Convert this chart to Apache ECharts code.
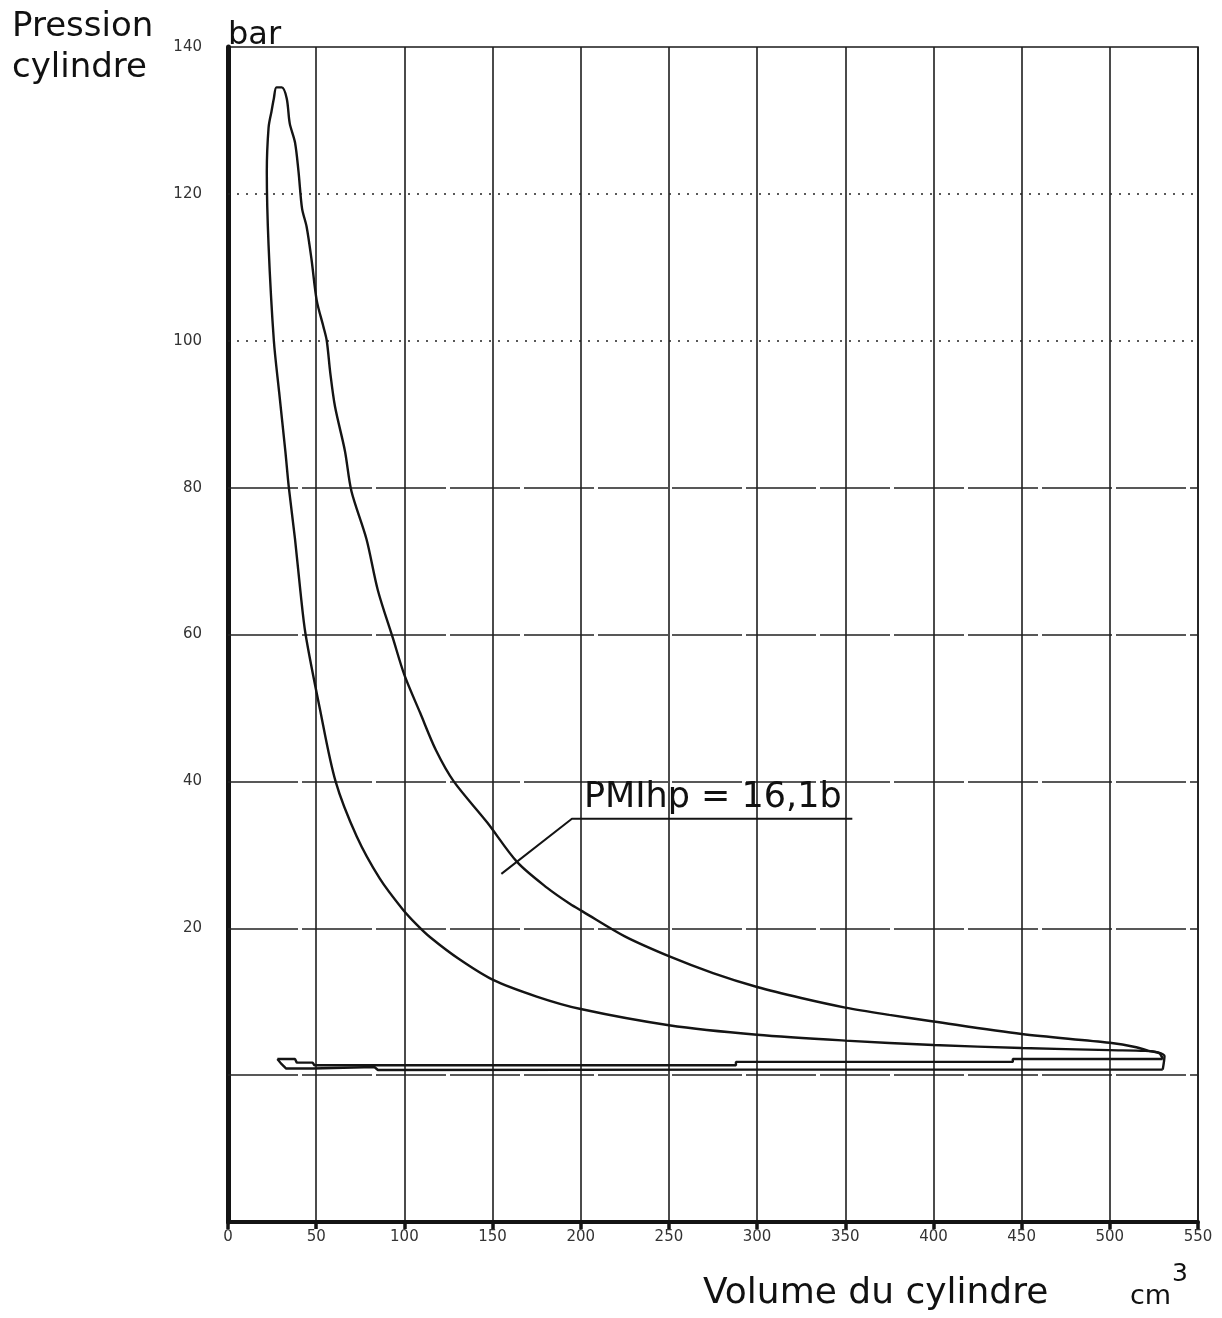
<!DOCTYPE html>
<html>
<head>
<meta charset="utf-8">
<script src="https://cdn.jsdelivr.net/npm/echarts@6/dist/echarts.min.js"></script>
<style>
html,body{margin:0;padding:0;background:#ffffff;}
#c{width:1222px;height:1318px;}
</style>
</head>
<body>
<div id="c"></div>
<script>
// ---- data (volume cm3, pressure bar) ----
const xTicks = [0, 50, 100, 150, 200, 250, 300, 350, 400, 450, 500, 550];
const yTickLabels = [140, 120, 100, 80, 60, 40, 20];
const dottedLevels = [120, 100];
const dashedLevels = [80, 60, 40, 20, 0];

const intake = [[28, 2.2], [30, 1.6], [33, 0.9], [48, 0.9], [49, 1.1], [83, 1.1], [85, 0.7], [300, 0.75], [530, 0.75]];
const compression = [[530, 0.75], [531, 2.6], [527, 3.1], [520, 3.3], [500, 3.4], [450, 3.7], [400, 4.1], [350, 4.7],
  [300, 5.5], [250, 6.8], [200, 9.0], [175, 10.7], [150, 13.0], [131, 15.8], [115, 18.7], [107, 20.5], [99, 22.6],
  [86, 26.8], [73, 32.5], [61, 40], [52, 50], [44, 60], [41, 66], [38, 73], [34.5, 80], [32.5, 85], [29, 93],
  [26, 100], [23, 113], [22, 123], [23, 129], [24.5, 131]];
const expansion = [[24.5, 131], [26, 133], [27.5, 134.5], [30.5, 134.5], [33.3, 133], [35, 129.6], [38, 127],
  [40, 123], [42, 118], [44.6, 115.5], [47.4, 111], [50.3, 105.5], [54, 102], [56, 100], [58, 95.6], [60.7, 91],
  [66.3, 85], [70, 79.5], [78.5, 73], [85, 66], [93.5, 59.5], [100, 54.5], [109, 49.3], [118, 44.2], [128, 40],
  [147, 34.4], [164, 29], [181, 25.5], [194, 23.3], [201, 22.3], [225, 18.9], [251, 16.1], [275, 13.9],
  [300, 12.0], [325, 10.5], [350, 9.2], [375, 8.2], [400, 7.3], [450, 5.6], [500, 4.4], [515, 3.8],
  [522, 3.3], [528, 3.0], [530, 2.2]];
const exhaust = [[530, 2.2], [445, 2.2], [445, 1.8], [288, 1.8], [288, 1.35], [49, 1.35], [48, 1.7], [39, 1.7],
  [38, 2.2], [28, 2.2]];
const leader = [[155, 27.4], [195, 34.9], [354, 34.9]];
const annotationText = 'PMIhp = 16,1b';

const INK = '#141414';
const chart = echarts.init(document.getElementById('c'), null, {renderer: 'canvas'});

function curve(name, data, smooth) {
  return {
    name: name, type: 'line', data: data, showSymbol: false, symbol: 'none', smooth: smooth || false,
    lineStyle: {color: INK, width: 2.4}, silent: true, animation: false, z: 5
  };
}

const gridLines = dottedLevels.map(v => ({yAxis: v, lineStyle: {type: [2, 7], width: 1.6, color: '#222'}}))
  .concat(dashedLevels.map(v => ({yAxis: v, lineStyle: {type: [70, 4], width: 1.5, color: '#222'}})));

const series = [
  curve('Admission', intake),
  curve('Compression', compression, 0.3),
  curve('Détente', expansion, 0.3),
  curve('Échappement', exhaust),
  {
    name: 'Repère', type: 'line', data: leader, showSymbol: false, symbol: 'none',
    lineStyle: {color: INK, width: 2}, silent: true, animation: false, z: 6
  }
];
series[0].markLine = {
  silent: true, symbol: 'none', label: {show: false}, animation: false, z: 1,
  data: gridLines
};

chart.setOption({
  backgroundColor: '#ffffff',
  animation: false,
  grid: {left: 228, right: 24, top: 47, bottom: 96, show: true, borderColor: '#1a1a1a', borderWidth: 1.6, containLabel: false},
  xAxis: {
    type: 'value', min: 0, max: 550, interval: 50,
    axisLine: {show: true, onZero: false, lineStyle: {color: INK, width: 4}},
    axisTick: {show: true, length: 7, lineStyle: {color: INK, width: 3.5}},
    axisLabel: {
      margin: 8, color: '#333', fontFamily: 'DejaVu Sans', fontSize: 15,
      formatter: v => xTicks.indexOf(v) >= 0 ? String(v) : ''
    },
    splitLine: {show: true, lineStyle: {color: '#1e1e1e', width: 1.6}}
  },
  yAxis: {
    type: 'value', min: -20, max: 140, interval: 20,
    axisLine: {show: true, onZero: false, lineStyle: {color: INK, width: 5}},
    axisTick: {show: false},
    axisLabel: {
      margin: 26, color: '#333', fontFamily: 'DejaVu Sans', fontSize: 15,
      formatter: v => yTickLabels.indexOf(v) >= 0 ? String(v) : ''
    },
    splitLine: {show: false}
  },
  series: series
});

const anchor = chart.convertToPixel({xAxisIndex: 0, yAxisIndex: 0}, leader[1]);
const txt = (text, x, y, size, extra) => Object.assign({
  type: 'text', silent: true, z: 20,
  style: {text: text, x: x, y: y, fill: '#111', font: size + 'px "DejaVu Sans"', verticalAlign: 'middle', textAlign: 'left'}
}, extra || {});

chart.setOption({
  graphic: [
    txt('Pression', 12, 27, 34),
    txt('cylindre', 12, 68, 34),
    txt('bar', 228, 36, 32),
    txt('Volume du cylindre', 703, 1294, 36),
    txt('cm', 1130, 1297, 27),
    txt('3', 1172, 1274, 25),
    txt(annotationText, anchor[0] + 12, anchor[1] - 21, 35)
  ]
});
</script>
</body>
</html>
